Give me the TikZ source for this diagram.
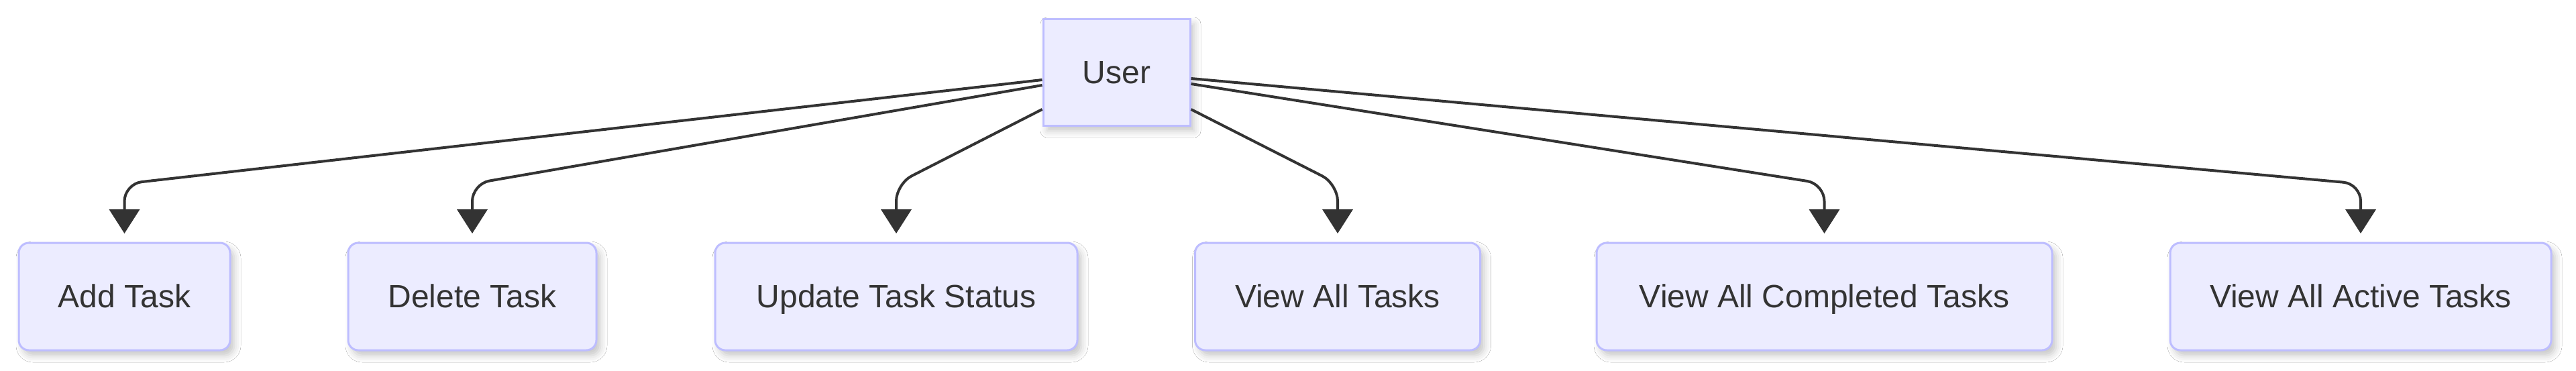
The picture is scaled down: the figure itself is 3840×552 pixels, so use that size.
\documentclass[tikz,border=0pt]{standalone}
\usepackage{fontspec}
\setmainfont{Liberation Sans}
\usetikzlibrary{arrows.meta,shadows.blur}
\definecolor{nodefill}{HTML}{ECECFF}
\definecolor{nodeline}{HTML}{BDBDFF}
\definecolor{ink}{HTML}{333333}
\begin{document}
\begin{tikzpicture}[x=1pt,y=-1pt,
  box/.style={draw=nodeline, fill=nodefill, line width=3pt, rounded corners=15pt,
    minimum height=160pt, inner sep=0pt, text=ink, font=\fontsize{48}{58}\selectfont,
    text height=36pt, text depth=3pt,
    blur shadow={shadow xshift=6pt, shadow yshift=-8pt, shadow blur radius=10pt, shadow opacity=22}},
  userbox/.style={box, rounded corners=0pt},
  link/.style={draw=ink, line width=4pt, rounded corners=26pt, shorten >=12.5pt,
    -{Triangle[width=45pt,length=36pt]}}
]
\useasboundingbox (0,0) rectangle (3840,552);
\fill[white] (0,0) rectangle (3840,552);

\node[userbox, minimum width=219pt, minimum height=159pt] (user) at (1664.5,107.5) {User};

\node[box, minimum width=315pt] (add) at (185.5,442) {Add Task};
\node[box, minimum width=370pt] (del) at (704,442) {Delete Task};
\node[box, minimum width=540pt] (upd) at (1336,442) {Update Task Status};
\node[box, minimum width=425pt] (all) at (1994,442) {View All Tasks};
\node[box, minimum width=679pt] (comp) at (2719.5,442) {View All Completed Tasks};
\node[box, minimum width=568pt] (act) at (3519,442) {View All Active Tasks};

\coordinate (kadd) at (185.5,274);
\coordinate (kdel) at (704,274);
\coordinate (kupd) at (1336,274);
\coordinate (kall) at (1994,274);
\coordinate (kcomp) at (2719.5,274);
\coordinate (kact) at (3519,274);

\draw[link] ([yshift=-11.5pt]user.west) -- (kadd) -- (add.north);
\draw[link] ([yshift=-19.5pt]user.west) -- (kdel) -- (del.north);
\draw[link] ([yshift=-55.5pt]user.west) -- (kupd) -- (upd.north);
\draw[link] ([yshift=-55.5pt]user.east) -- (kall) -- (all.north);
\draw[link] ([yshift=-17.5pt]user.east) -- (kcomp) -- (comp.north);
\draw[link] ([yshift=-9.5pt]user.east) -- (kact) -- (act.north);
\end{tikzpicture}
\end{document}
